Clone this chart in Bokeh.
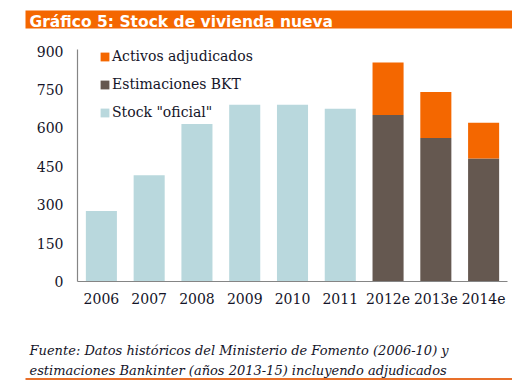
from bokeh.plotting import figure
from bokeh.models import (Range1d, FixedTicker, Legend, LegendItem,
                          ColumnDataSource, Label, BoxAnnotation)
from bokeh.embed import file_html
from bokeh.resources import INLINE

# ---- data ----
years = ["2006", "2007", "2008", "2009", "2010", "2011", "2012e", "2013e", "2014e"]
stock_oficial = [275, 415, 615, 690, 690, 675, 0, 0, 0]
estimaciones_bkt = [0, 0, 0, 0, 0, 0, 650, 560, 480]
activos_adjudicados = [0, 0, 0, 0, 0, 0, 205, 180, 140]
y_ticks = [0, 150, 300, 450, 600, 750, 900]
series_labels = ['Stock "oficial"', "Estimaciones BKT", "Activos adjudicados"]
title_text = "Gráfico 5: Stock de vivienda nueva"
source_lines = [
    "Fuente: Datos históricos del Ministerio de Fomento (2006-10) y",
    "estimaciones Bankinter (años 2013-15) incluyendo adjudicados",
]

ORANGE = "#f46700"
BROWN = "#655850"
LIGHTBLUE = "#b9d8dd"
AXIS = "#858585"
TXT = "#141428"
SERIF = "DejaVu Serif"

# ---- layout constants (pixels) ----
W, H = 512, 380
PLOT_L, PLOT_R = 77, 507          # plot area, horizontally
Y0_PX, Y900_PX = 281, 50.5        # pixel rows of value 0 and 900
n = len(years)
kx = (PLOT_R - PLOT_L) / n
ky = (Y0_PX - Y900_PX) / 900.0
pos = list(range(n))
x_start = -PLOT_L / kx - 0.5
x_end = x_start + W / kx
y_start = -(H - Y0_PX) / ky
y_end = Y0_PX / ky

src = ColumnDataSource(dict(x=pos, stock=stock_oficial,
                            bkt=estimaciones_bkt, adj=activos_adjudicados))
p = figure(width=W, height=H, x_range=Range1d(x_start, x_end),
           y_range=Range1d(y_start, y_end), toolbar_location=None,
           output_backend="svg", title=None, min_border=0,
           outline_line_color=None)
p.grid.visible = False
rs = p.vbar_stack(["stock", "bkt", "adj"], x="x", width=0.65,
                  color=[LIGHTBLUE, BROWN, ORANGE], line_color=None, source=src)

xa, ya = p.xaxis[0], p.yaxis[0]
for ax in (xa, ya):
    ax.axis_line_color = AXIS
    ax.axis_line_width = 1.2
    ax.major_tick_line_color = None
    ax.minor_tick_line_color = None
    ax.major_tick_out = 0
    ax.major_tick_in = 0
    ax.major_label_text_font = SERIF
    ax.major_label_text_font_size = "14px"
    ax.major_label_text_color = TXT
xa.fixed_location = 0
xa.bounds = (-0.5, n - 0.5)
xa.ticker = FixedTicker(ticks=pos)
xa.major_label_overrides = {i: yr for i, yr in zip(pos, years)}
xa.major_label_standoff = 11
ya.fixed_location = -0.5
ya.bounds = (0, 906)
ya.ticker = FixedTicker(ticks=y_ticks)
ya.major_label_standoff = 14

legend = Legend(items=[
    LegendItem(label=series_labels[2], renderers=[rs[2]]),
    LegendItem(label=series_labels[1], renderers=[rs[1]]),
    LegendItem(label=series_labels[0], renderers=[rs[0]]),
], location=(99, 259), padding=0, margin=0, spacing=10,
    glyph_width=11, glyph_height=11, label_height=18, label_standoff=2,
    border_line_color=None, background_fill_alpha=0,
    label_text_font=SERIF, label_text_font_size="14px", label_text_color=TXT)
p.add_layout(legend)

def box(l, r, t, b, color):
    return BoxAnnotation(left=l, right=r, top=H - t, bottom=H - b,
                         left_units="screen", right_units="screen",
                         top_units="screen", bottom_units="screen",
                         fill_color=color, fill_alpha=1, line_color=None,
                         level="underlay")

# ---- title bar ----
p.add_layout(box(25, 512, 10, 28, ORANGE))
p.add_layout(Label(x=29, y=H - 21.5, x_units="screen", y_units="screen",
                   text=title_text, text_font="DejaVu Sans", text_font_style="bold",
                   text_font_size="15.5px", text_color="white",
                   text_baseline="alphabetic", text_align="left"))

# ---- footnote ----
for i, line in enumerate(source_lines):
    p.add_layout(Label(x=29, y=H - 350 - 20 * i, x_units="screen", y_units="screen",
                       text=line, text_font=SERIF, text_font_style="italic",
                       text_font_size="13px", text_color=TXT,
                       text_baseline="alphabetic", text_align="left"))
p.add_layout(box(25, 512, 377.5, 379.5, "#e8702a"))

open("out.html", "w").write(file_html(p, INLINE))
